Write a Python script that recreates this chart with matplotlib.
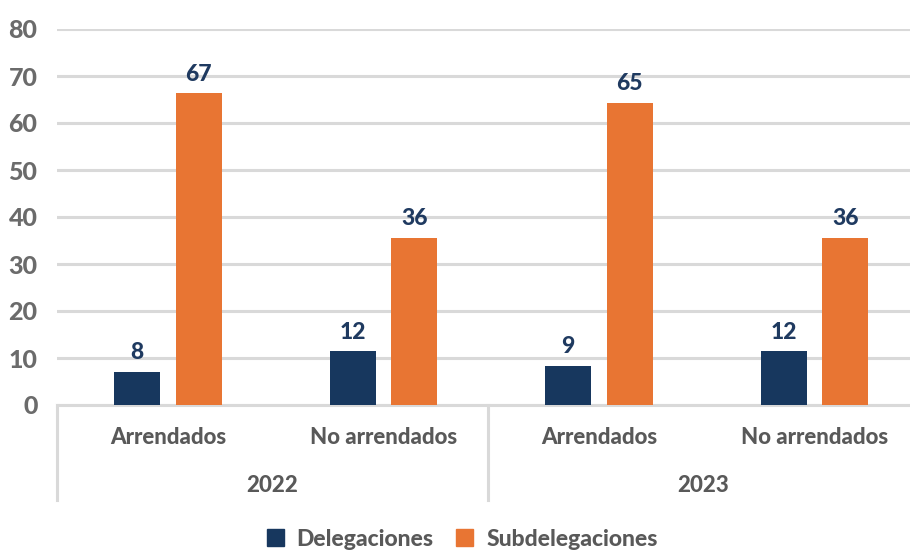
import matplotlib
matplotlib.use("Agg")
import matplotlib.pyplot as plt
import numpy as np
from matplotlib.patches import Patch
import matplotlib.transforms as mtransforms

categories = ["Arrendados", "No arrendados", "Arrendados", "No arrendados"]
years = ["2022", "2023"]
delegaciones = [7.1, 11.4, 8.4, 11.4]
subdelegaciones = [66.4, 35.6, 64.3, 35.6]
deleg_labels = ["8", "12", "9", "12"]
subdeleg_labels = ["67", "36", "65", "36"]
yticks = [0, 10, 20, 30, 40, 50, 60, 70, 80]

NAVY = "#17375E"
ORANGE = "#E87533"
GRID = "#D9D9D9"
TICK = "#6B6B6B"
TXT = "#595959"
FONT = "Lato"

W, H = 910, 552
fig = plt.figure(figsize=(W / 100, H / 100), dpi=100)
ax = fig.add_axes([57 / W, (H - 405) / H, 862 / W, (405 - 29) / H])

x = np.arange(len(categories))
bw = 0.213
shift = 0.015
b1 = ax.bar(x - 0.143 + shift, delegaciones, bw, color=NAVY, zorder=3)
b2 = ax.bar(x + 0.143 + shift, subdelegaciones, bw, color=ORANGE, zorder=3)

for bars, labs in ((b1, deleg_labels), (b2, subdeleg_labels)):
    for rect, lab in zip(bars, labs):
        ax.annotate(lab, (rect.get_x() + rect.get_width() / 2, rect.get_height()),
                    xytext=(0, 6), textcoords="offset points", ha="center", va="bottom",
                    fontsize=16.5, fontweight="black", color="#1F3A60", family=FONT)

ax.set_xlim(-0.5, 3.5)
ax.set_ylim(0, 80)
ax.set_yticks(yticks)
ax.set_yticklabels([str(t) for t in yticks], fontsize=18, fontweight="black", color=TICK, family=FONT)
ax.tick_params(axis="y", length=0, pad=14)
ax.set_xticks([])
ax.yaxis.grid(True, color=GRID, linewidth=2.2, zorder=0)
ax.set_axisbelow(True)
for s in ["top", "right", "left"]:
    ax.spines[s].set_visible(False)
ax.spines["bottom"].set_color(GRID)
ax.spines["bottom"].set_linewidth(2.2)

trans = mtransforms.blended_transform_factory(ax.transData, ax.transAxes)
depth = -(500 - 405) / (405 - 29)
for xv in (-0.5, 1.5, 3.5):
    ax.plot([xv, xv], [0, depth], transform=trans, color=GRID, linewidth=2.2, clip_on=False)

cat_y = -(438 - 405) / (405 - 29)
yr_y = -(486 - 405) / (405 - 29)
for xi, c in zip(x, categories):
    ax.text(xi + shift, cat_y, c, transform=trans, ha="center", va="center",
            fontsize=16, fontweight="black", color=TXT, family=FONT)
for i, yr in enumerate(years):
    ax.text(2 * i + 0.5, yr_y, yr, transform=trans, ha="center", va="center",
            fontsize=16, fontweight="black", color=TXT, family=FONT)

handles = [Patch(color=NAVY, label="Delegaciones"), Patch(color=ORANGE, label="Subdelegaciones")]
leg = fig.legend(handles=handles, loc="center", bbox_to_anchor=(462 / W, (H - 539) / H), ncol=2,
                 frameon=False, handlelength=0.75, handleheight=0.75, handletextpad=0.55, columnspacing=1.0,
                 prop={"family": FONT, "weight": "black", "size": 16.5})
for t in leg.get_texts():
    t.set_color(TXT)

fig.savefig("out.png", dpi=100)
